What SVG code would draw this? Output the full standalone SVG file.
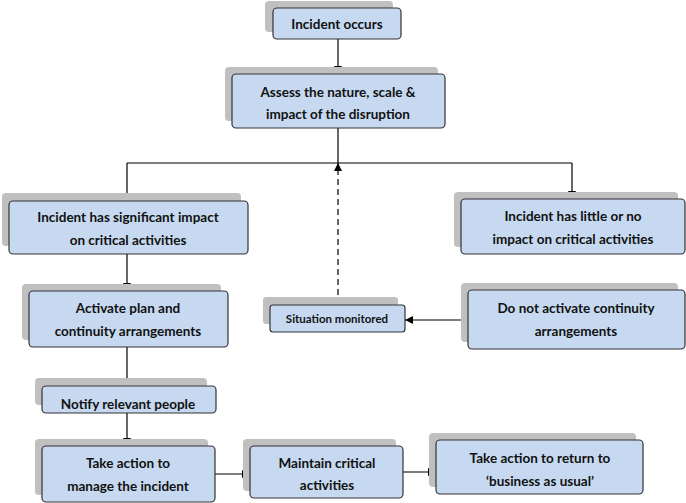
<svg xmlns="http://www.w3.org/2000/svg" width="686" height="503" viewBox="0 0 686 503">
<defs>
<style>
.sh{fill:#c0c0c0}
.bx{fill:#c6d9f0;stroke:#333;stroke-width:1.2}
text{font-family:Lato,"Open Sans",sans-serif;font-weight:bold;font-size:13.5px;fill:#111;text-anchor:middle}
.c{stroke:#000;stroke-width:1.2;fill:none}
</style>
<marker id="a" viewBox="0 0 10 10" refX="10" refY="5" markerWidth="7" markerHeight="7" orient="auto"><path d="M0,0L10,5L0,10z" fill="#000"/></marker>
</defs>
<rect width="686" height="503" fill="#fff"/>
<g id="connectors">
<path class="c" d="M338,39V74" marker-end="url(#a)"/>
<path class="c" d="M338,128V163M127,163H572M127,163V201" marker-end="url(#a)"/>
<path class="c" d="M572,163V199" marker-end="url(#a)"/>
<path class="c" d="M338,305V163" stroke-dasharray="6,4" marker-end="url(#a)"/>
<path class="c" d="M127,254V291" marker-end="url(#a)"/>
<path class="c" d="M127,347V386" marker-end="url(#a)"/>
<path class="c" d="M127,413V446" marker-end="url(#a)"/>
<path class="c" d="M468,320H405" marker-end="url(#a)"/>
<path class="c" d="M215,474H250" marker-end="url(#a)"/>
<path class="c" d="M403,472H436" marker-end="url(#a)"/>
</g>
<g id="n1"><rect class="sh" x="265" y="1" width="128" height="31" rx="4"/><rect class="bx" x="273" y="8" width="128" height="31" rx="4"/><text x="337" y="29">Incident occurs</text></g>
<g id="n2"><rect class="sh" x="225" y="67" width="213" height="54" rx="4"/><rect class="bx" x="232" y="74" width="213" height="54" rx="4"/><text x="338" y="97">Assess the nature, scale &amp;</text><text x="338" y="119">impact of the disruption</text></g>
<g id="n3"><rect class="sh" x="2" y="193" width="239" height="53" rx="4"/><rect class="bx" x="9" y="201" width="239" height="53" rx="4"/><text x="128" y="222">Incident has significant impact</text><text x="128" y="245">on critical activities</text></g>
<g id="n4"><rect class="sh" x="454" y="192" width="224" height="55" rx="4"/><rect class="bx" x="461" y="199" width="224" height="55" rx="4"/><text x="573" y="221">Incident has little or no</text><text x="573" y="244">impact on critical activities</text></g>
<g id="n5"><rect class="sh" x="22" y="284" width="199" height="56" rx="4"/><rect class="bx" x="29" y="291" width="199" height="56" rx="4"/><text x="128" y="313">Activate plan and</text><text x="128" y="336">continuity arrangements</text></g>
<g id="n6"><rect class="sh" x="263" y="297" width="135" height="27" rx="3"/><rect class="bx" x="270" y="305" width="135" height="27" rx="3"/><text x="337" y="323" style="font-size:11.5px">Situation monitored</text></g>
<g id="n7"><rect class="sh" x="461" y="283" width="217" height="59" rx="4"/><rect class="bx" x="468" y="290" width="217" height="59" rx="4"/><text x="576" y="313">Do not activate continuity</text><text x="576" y="336">arrangements</text></g>
<g id="n8"><rect class="sh" x="35" y="378" width="172" height="27" rx="4"/><rect class="bx" x="42" y="386" width="174" height="27" rx="4"/><text x="128" y="409">Notify relevant people</text></g>
<g id="n9"><rect class="sh" x="35" y="439" width="173" height="56" rx="4"/><rect class="bx" x="42" y="446" width="173" height="56" rx="4"/><text x="128" y="468">Take action to</text><text x="128" y="491">manage the incident</text></g>
<g id="n10"><rect class="sh" x="243" y="439" width="153" height="52" rx="4"/><rect class="bx" x="250" y="446" width="153" height="52" rx="4"/><text x="327" y="468">Maintain critical</text><text x="327" y="490">activities</text></g>
<g id="n11"><rect class="sh" x="429" y="433" width="207" height="54" rx="4"/><rect class="bx" x="436" y="440" width="207" height="54" rx="4"/><text x="540" y="463">Take action to return to</text><text x="540" y="486">‘business as usual’</text></g>
</svg>
